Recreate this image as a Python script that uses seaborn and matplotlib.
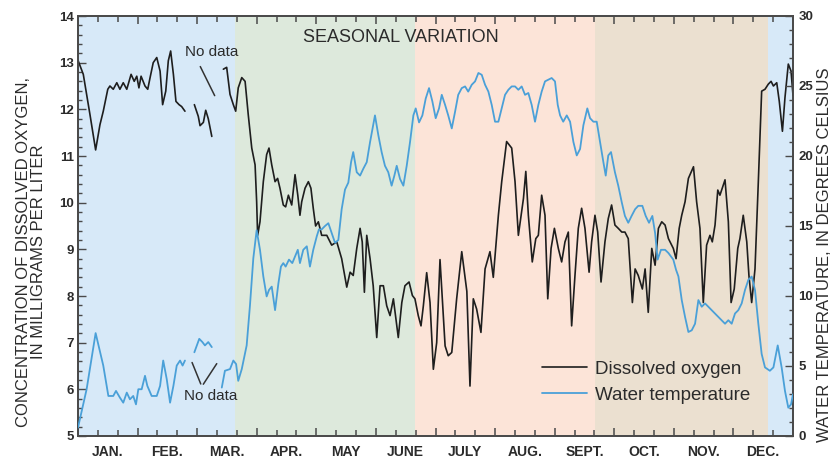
import numpy as np
import pandas as pd
import matplotlib
matplotlib.use("Agg")
import matplotlib.pyplot as plt
import matplotlib.transforms as mtransforms
import seaborn as sns

# ---------------- data ----------------
months = ["JAN.", "FEB.", "MAR.", "APR.", "MAY", "JUNE", "JULY", "AUG.",
          "SEPT.", "OCT.", "NOV.", "DEC."]

season_edges = [0, 80, 172, 264, 352, 365]
season_colors = ["#d7e9f8", "#dde9dc", "#fce4d8", "#ebe0d0", "#d7e9f8"]

# Dissolved oxygen (mg/L), three segments separated by "no data" gaps
do_day_1 = [0, 2.7, 6.1, 9.0, 11.2, 12.9, 15.2, 16.3, 18.0, 19.8, 21.4, 23.1, 24.9,
            27.1, 28.7, 30.0, 31.1, 32.2, 34.2, 35.6, 36.8, 38.4, 40.2, 41.9, 43.2,
            44.8, 46.1, 47.3, 48.7, 50.0, 51.6, 52.9, 54.6]
do_val_1 = [13.05, 12.75, 11.89, 11.13, 11.67, 11.96, 12.43, 12.5, 12.43, 12.57, 12.43,
            12.57, 12.43, 12.75, 12.6, 12.71, 12.46, 12.71, 12.5, 12.43, 12.68, 13.0,
            13.11, 12.82, 12.1, 12.39, 13.04, 13.25, 12.75, 12.17, 12.1, 12.06, 11.96]

do_day_2 = [59.4, 61.4, 62.3, 64.0, 65.2, 66.5, 68.3]
do_val_2 = [12.1, 11.85, 11.65, 11.72, 11.98, 11.8, 11.42]

do_day_3 = [74.2, 75.9, 77.6, 79.3, 80.5, 81.8, 83.6, 85.3, 86.9, 88.7, 90.4, 91.2, 91.7,
            92.9, 94.6, 96.3, 97.5, 98.9, 100.6, 101.9, 103.1, 104.8, 106.0, 107.4, 109.1,
            110.8, 112.2, 113.3, 114.2, 115.9, 117.6, 118.9, 120.1, 121.3, 122.7, 124.4,
            127.0, 129.5, 132.1, 134.6, 137.2, 138.9, 140.5, 142.3, 144.0, 145.1, 146.2,
            147.4, 149.1, 150.7, 152.5, 154.2, 155.9, 157.6, 159.3, 161.0, 163.5, 165.3,
            166.9, 169.0, 170.7, 172.0, 173.7, 175.1, 176.3, 178.0, 179.7, 181.4, 183.1,
            184.8, 187.4, 189.0, 190.8, 193.3, 195.9, 198.5, 200.1, 201.8, 203.5, 205.7,
            207.8, 210.3, 212.0, 214.6, 216.3, 218.8, 221.4, 223.1, 224.8, 227.4, 228.6,
            229.9, 231.9, 233.7, 235.0, 236.7, 238.4, 239.8, 241.5, 243.2, 245.2, 246.9,
            248.6, 250.3, 252.0, 253.7, 255.4, 257.1, 258.8, 260.9, 262.2, 263.9, 265.3,
            267.0, 269.0, 270.7, 272.4, 274.1, 275.8, 277.6, 279.2, 280.9, 283.0, 284.4,
            286.0, 288.1, 289.5, 291.1, 292.9, 294.6, 296.3, 298.0, 299.7, 301.4, 303.9,
            305.3, 306.9, 308.2, 309.9, 311.6, 314.2, 315.8, 317.5, 319.2, 320.9, 322.6,
            323.8, 325.2, 326.6, 327.7, 330.3, 332.0, 333.4, 335.0, 336.8, 337.9, 339.6,
            341.4, 342.5, 343.9, 345.6, 347.3, 349.0, 350.7, 352.4, 353.8, 355.0, 356.7,
            358.0, 359.6, 360.9, 362.6, 364.0, 365.0]
do_val_3 = [12.86, 12.9, 12.32, 12.1, 11.96, 12.46, 12.68, 12.6, 11.89, 11.17, 10.81, 10.02,
            9.3, 9.59, 10.45, 11.03, 11.17, 10.81, 10.45, 10.52, 10.31, 9.95, 9.91, 10.16,
            9.95, 10.6, 10.16, 9.73, 10.02, 10.31, 10.45, 10.31, 9.88, 9.5, 9.59, 9.3, 9.3,
            9.09, 9.16, 8.8, 8.19, 8.51, 8.44, 9.02, 9.45, 9.16, 8.08, 9.3, 8.8, 8.22, 7.11,
            8.22, 8.22, 7.79, 7.58, 7.94, 7.11, 7.86, 8.22, 8.3, 8.01, 7.94, 7.58, 7.36,
            7.79, 8.5, 7.86, 6.43, 7.0, 8.78, 6.93, 6.72, 6.79, 7.94, 8.95, 8.1, 6.07, 7.94,
            7.72, 7.22, 8.58, 8.95, 8.4, 9.73, 10.45, 11.31, 11.17, 10.45, 9.3, 10.09, 10.67,
            9.73, 8.73, 9.23, 9.3, 10.16, 9.73, 7.94, 9.02, 9.45, 9.02, 8.73, 9.16, 9.37,
            7.36, 8.44, 9.45, 9.88, 9.45, 8.51, 9.16, 9.73, 9.37, 8.3, 9.16, 9.66, 9.95,
            9.52, 9.45, 9.37, 9.37, 9.23, 7.86, 8.58, 8.44, 8.15, 8.58, 7.65, 9.02, 8.66,
            9.45, 9.59, 9.52, 9.23, 9.02, 8.8, 9.45, 9.73, 10.02, 10.52, 10.77, 10.02, 9.45,
            7.86, 9.09, 9.3, 9.16, 9.52, 10.27, 10.16, 10.49, 9.59, 7.86, 8.15, 9.02, 9.23,
            9.73, 9.16, 8.44, 7.86, 8.58, 10.45, 12.39, 12.43, 12.54, 12.6, 12.5, 12.57,
            12.17, 11.53, 12.25, 12.97, 12.82, 12.3]

# Water temperature (deg C), three segments
wt_day_1 = [0, 4.4, 9.0, 12.9, 15.5, 18.0, 19.4, 21.4, 23.1, 24.9, 26.5, 28.2, 29.6, 30.8,
            32.5, 34.2, 35.4, 37.6, 40.2, 41.9, 43.5, 45.3, 47.0, 48.7, 50.4, 52.1, 53.4,
            54.6]
wt_val_1 = [0.6, 3.34, 7.35, 5.03, 2.86, 2.86, 3.22, 2.74, 2.38, 3.1, 2.62, 2.86, 2.26,
            3.34, 3.34, 4.3, 3.58, 2.86, 2.86, 3.58, 5.39, 4.06, 2.38, 3.58, 5.03, 5.39,
            5.03, 5.39]

wt_day_2 = [59.4, 61.9, 63.5, 64.8, 66.5, 68.3]
wt_val_2 = [5.98, 6.94, 6.71, 6.47, 6.71, 6.35]

wt_day_3 = [73.4, 75.0, 77.6, 79.3, 80.7, 81.8, 83.6, 86.1, 87.8, 89.5, 91.2, 92.9, 94.6,
            96.3, 97.5, 98.9, 100.6, 102.3, 103.6, 104.8, 106.0, 107.7, 109.4, 110.8, 112.2,
            113.3, 115.0, 116.8, 118.4, 120.1, 121.9, 123.0, 124.4, 126.1, 127.8, 129.5,
            131.2, 132.9, 134.6, 136.3, 138.0, 139.4, 140.5, 142.3, 144.0, 145.6, 147.4,
            149.1, 151.6, 153.3, 155.0, 156.7, 158.4, 160.1, 161.5, 162.7, 164.4, 166.1,
            167.8, 169.5, 171.2, 172.4, 174.1, 175.8, 177.5, 179.2, 180.9, 182.6, 184.3,
            185.7, 187.4, 189.0, 190.8, 192.5, 194.1, 195.9, 197.6, 199.2, 201.0, 202.7,
            204.4, 206.1, 207.8, 209.5, 211.2, 212.9, 214.6, 216.3, 218.0, 219.7, 221.4,
            223.1, 224.8, 226.5, 228.2, 229.9, 231.6, 233.3, 235.0, 236.7, 238.4, 240.1,
            241.8, 243.5, 244.9, 246.1, 247.7, 249.5, 251.2, 252.9, 254.6, 256.3, 258.0,
            260.0, 261.4, 263.1, 264.8, 266.5, 268.2, 269.4, 270.7, 272.1, 274.1, 275.8,
            277.6, 279.2, 280.9, 282.6, 284.4, 286.0, 288.1, 289.8, 291.5, 293.2, 294.6,
            295.9, 297.6, 299.7, 301.4, 303.9, 305.3, 306.5, 308.2, 309.9, 311.6, 313.3,
            315.0, 316.7, 318.4, 320.1, 321.8, 323.5, 325.2, 326.9, 328.6, 330.3, 332.0,
            333.7, 335.4, 337.1, 338.8, 340.5, 342.2, 343.9, 345.6, 347.3, 349.0, 350.7,
            353.2, 355.0, 357.2, 359.2, 360.9, 362.6, 364.0, 365.0]
wt_val_3 = [3.46, 4.66, 4.78, 5.39, 5.14, 3.94, 4.78, 6.47, 9.35, 12.7, 14.7, 13.3, 11.4,
            9.97, 10.43, 10.67, 8.99, 10.9, 12.1, 12.35, 12.1, 12.6, 12.35, 12.83, 13.3,
            12.35, 13.3, 13.55, 12.1, 13.3, 14.27, 14.76, 14.76, 15.0, 15.2, 14.5, 13.8,
            14.0, 16.2, 17.6, 18.1, 19.56, 20.28, 18.84, 18.6, 19.08, 19.56, 21.0, 22.9,
            21.5, 20.28, 19.3, 18.84, 17.88, 18.6, 19.3, 18.36, 17.88, 19.3, 21.0, 22.9,
            23.4, 22.4, 22.9, 24.1, 24.85, 23.9, 22.7, 23.4, 24.37, 23.65, 22.9, 21.97,
            23.17, 24.37, 24.85, 24.97, 24.6, 25.09, 25.33, 25.93, 25.8, 25.09, 24.6, 23.65,
            22.45, 22.45, 23.4, 24.37, 24.73, 24.97, 24.97, 24.73, 24.97, 24.37, 24.5,
            23.65, 22.45, 23.65, 24.6, 25.33, 25.45, 25.57, 25.33, 23.65, 22.9, 22.45, 22.9,
            22.45, 21.0, 20.04, 20.5, 22.2, 23.4, 22.7, 22.45, 22.45, 21.0, 19.56, 18.6,
            20.04, 20.28, 18.84, 17.88, 16.68, 15.72, 15.23, 15.72, 16.2, 16.44, 16.44,
            15.72, 15.23, 15.72, 14.5, 12.6, 13.3, 13.3, 13.07, 12.6, 11.87, 11.4, 9.71,
            8.5, 7.43, 7.55, 8.02, 9.71, 9.23, 9.47, 9.23, 8.99, 8.75, 8.5, 8.27, 8.02, 8.27,
            8.02, 8.75, 8.99, 9.47, 10.43, 11.15, 11.39, 10.43, 8.02, 5.86, 4.9, 4.66, 4.9,
            6.47, 4.9, 3.22, 2.02, 2.26, 2.98]

series_labels = ["Dissolved oxygen", "Water temperature"]

# ---------------- build tables ----------------
do_df = pd.concat([
    pd.DataFrame({"day": d, "value": v, "seg": i})
    for i, (d, v) in enumerate([(do_day_1, do_val_1), (do_day_2, do_val_2),
                                (do_day_3, do_val_3)])
], ignore_index=True)
wt_df = pd.concat([
    pd.DataFrame({"day": d, "value": v, "seg": i})
    for i, (d, v) in enumerate([(wt_day_1, wt_val_1), (wt_day_2, wt_val_2),
                                (wt_day_3, wt_val_3)])
], ignore_index=True)

# ---------------- style ----------------
sns.set_style("ticks")
plt.rcParams["font.family"] = ["Liberation Sans", "DejaVu Sans"]
TXT = "#2b2b2b"
SPINE = "#4a4a4a"
DO_COLOR = "#1e1e1e"
WT_COLOR = "#4aa0d8"

fig = plt.figure(figsize=(8.3, 4.59), dpi=100)
fig.patch.set_facecolor("white")
L, R, B, T = 78, 793, 436, 16
ax = fig.add_axes([L / 830, 1 - B / 459, (R - L) / 830, (B - T) / 459])
ax2 = ax.twinx()

# seasons
for i in range(len(season_colors)):
    ax.axvspan(season_edges[i], season_edges[i + 1], color=season_colors[i],
               lw=0, zorder=0)

sns.lineplot(data=do_df, x="day", y="value", units="seg", estimator=None,
             color=DO_COLOR, lw=1.2, ax=ax, zorder=3)
sns.lineplot(data=wt_df, x="day", y="value", units="seg", estimator=None,
             color=WT_COLOR, lw=1.3, ax=ax2, zorder=3)

ax.set_xlim(0, 365)
ax.set_ylim(5, 14)
ax2.set_ylim(0, 30)
ax.set_xlabel("")
ax.set_ylabel("")
ax2.set_ylabel("")

# ticks
step = 365 / 36
all_ticks = np.arange(1, 36) * step
major_x = [t for k, t in enumerate(all_ticks, start=1) if k % 3 == 0]
minor_x = [t for k, t in enumerate(all_ticks, start=1) if k % 3 != 0]
ax.set_xticks(major_x)
ax.set_xticks(minor_x, minor=True)
ax.set_xticklabels([])
ax.set_yticks(np.arange(5, 15, 1))
ax.set_yticks(np.arange(5, 14.01, 0.2), minor=True)
ax2.set_yticks(np.arange(0, 31, 5))
ax2.set_yticks(np.arange(0, 31, 1), minor=True)

ax.tick_params(axis="x", which="both", direction="in", top=True, bottom=True,
               color=SPINE, width=1.1)
ax.tick_params(axis="x", which="major", length=6)
ax.tick_params(axis="x", which="minor", length=4)
ax.tick_params(axis="y", which="both", direction="in", left=True, right=False,
               color=SPINE, width=1.0, labelsize=9.5, labelcolor=TXT, pad=3)
ax.tick_params(axis="y", which="major", length=6)
ax.tick_params(axis="y", which="minor", length=3)
ax2.tick_params(axis="y", which="both", direction="in", right=True, left=False,
                color=SPINE, width=1.0, labelsize=9.5, labelcolor=TXT, pad=4)
ax2.tick_params(axis="y", which="major", length=6)
ax2.tick_params(axis="y", which="minor", length=3)
for lab in ax.get_yticklabels() + ax2.get_yticklabels():
    lab.set_fontweight("bold")

for a in (ax, ax2):
    for s in a.spines.values():
        s.set_visible(True)
        s.set_color(SPINE)
        s.set_linewidth(1.3)

# month labels
trans = mtransforms.blended_transform_factory(ax.transData, ax.transAxes)
for i, m in enumerate(months):
    ax.text((3 * i + 1.5) * step, -0.037, m, transform=trans, ha="center",
            va="center", fontsize=10, fontweight="bold", color=TXT)

# title
ax.text(165, 13.55, "SEASONAL VARIATION", ha="center", va="center",
        fontsize=13, color=TXT, zorder=5)

# "No data" annotations
ax.text(68, 13.22, "No data", ha="center", va="center", fontsize=11, color=TXT, zorder=5)
ax.annotate("", xy=(70.4, 12.24), xytext=(61.8, 12.97),
            arrowprops=dict(arrowstyle="-", color="#333333", lw=1.1))
ax.text(67.5, 5.86, "No data", ha="center", va="center", fontsize=11, color=TXT, zorder=5)
ax.annotate("", xy=(57.7, 6.63), xytext=(63.2, 6.06),
            arrowprops=dict(arrowstyle="-", color="#333333", lw=1.1))
ax.annotate("", xy=(71.6, 6.60), xytext=(63.2, 6.06),
            arrowprops=dict(arrowstyle="-", color="#333333", lw=1.1))

# axis labels
fig.text(31 / 830, 1 - 252 / 459,
         "CONCENTRATION OF DISSOLVED OXYGEN,\nIN MILLIGRAMS PER LITER",
         rotation=90, ha="center", va="center", multialignment="center",
         fontsize=12, color=TXT, linespacing=1.05)
fig.text(824 / 830, 1 - 255 / 459, "WATER TEMPERATURE, IN DEGREES CELSIUS",
         rotation=90, ha="center", va="center", fontsize=12, color=TXT)

# legend
for a in (ax, ax2):
    if a.get_legend() is not None:
        a.get_legend().remove()
handles = [ax.get_lines()[0], ax2.get_lines()[0]]
leg = ax2.legend(handles, series_labels, loc="center left",
                 bbox_to_anchor=(0.649, 0.128), frameon=False, fontsize=13.5,
                 handlelength=2.4, handletextpad=0.45, labelspacing=0.45,
                 borderpad=0, borderaxespad=0)
for t in leg.get_texts():
    t.set_color(TXT)

fig.savefig("out.png", dpi=100, facecolor="white")
